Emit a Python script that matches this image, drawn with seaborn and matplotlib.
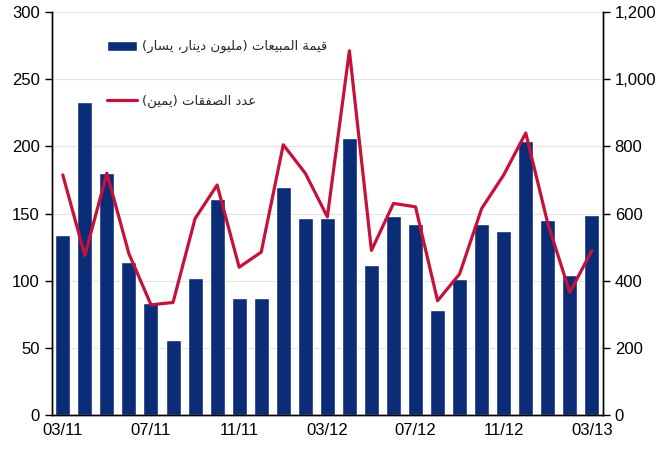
import numpy as np
import pandas as pd
import matplotlib
matplotlib.use("Agg")
import matplotlib.pyplot as plt
from matplotlib.ticker import FuncFormatter, FixedLocator
import seaborn as sns

months = ["03/11", "04/11", "05/11", "06/11", "07/11", "08/11", "09/11", "10/11",
          "11/11", "12/11", "01/12", "02/12", "03/12", "04/12", "05/12", "06/12",
          "07/12", "08/12", "09/12", "10/12", "11/12", "12/12", "01/13", "02/13", "03/13"]
sales_value = [134, 233, 180, 114, 83, 56, 102, 161, 87, 87, 170, 147, 147, 206, 112,
               148, 142, 78, 101, 142, 137, 204, 145, 104, 149]
deals_count = [715, 475, 720, 480, 328, 335, 585, 685, 440, 485, 805, 720, 590, 1085, 490,
               630, 620, 340, 420, 615, 715, 840, 570, 365, 490]
label_sales = "قيمة المبيعات (مليون دينار، يسار)"
label_deals = "عدد الصفقات (يمين)"

# tiny arabic shaper: contextual forms + visual (reversed) order
FORMS = {
    "ا": (0xFE8D, 0xFE8E, None, None), "ب": (0xFE8F, 0xFE90, 0xFE91, 0xFE92),
    "ة": (0xFE93, 0xFE94, None, None), "ت": (0xFE95, 0xFE96, 0xFE97, 0xFE98),
    "د": (0xFEA9, 0xFEAA, None, None), "ر": (0xFEAD, 0xFEAE, None, None),
    "س": (0xFEB1, 0xFEB2, 0xFEB3, 0xFEB4), "ص": (0xFEB9, 0xFEBA, 0xFEBB, 0xFEBC),
    "ع": (0xFEC9, 0xFECA, 0xFECB, 0xFECC), "ف": (0xFED1, 0xFED2, 0xFED3, 0xFED4),
    "ق": (0xFED5, 0xFED6, 0xFED7, 0xFED8), "ل": (0xFEDD, 0xFEDE, 0xFEDF, 0xFEE0),
    "م": (0xFEE1, 0xFEE2, 0xFEE3, 0xFEE4), "ن": (0xFEE5, 0xFEE6, 0xFEE7, 0xFEE8),
    "و": (0xFEED, 0xFEEE, None, None), "ي": (0xFEF1, 0xFEF2, 0xFEF3, 0xFEF4),
}

def shape(text):
    out = []
    for i, ch in enumerate(text):
        if ch not in FORMS:
            out.append(ch)
            continue
        f = FORMS[ch]
        prev = text[i - 1] if i > 0 else ""
        nxt = text[i + 1] if i + 1 < len(text) else ""
        join_prev = prev in FORMS and FORMS[prev][2] is not None
        join_next = nxt in FORMS and f[2] is not None
        if join_prev and join_next:
            code = f[3]
        elif join_prev:
            code = f[1]
        elif join_next:
            code = f[2]
        else:
            code = f[0]
        out.append(chr(code))
    vis = "".join(out)[::-1]
    return vis.translate(str.maketrans("()", ")("))

sns.set_style("white")
plt.rcParams["font.family"] = ["Liberation Sans", "DejaVu Sans"]

df = pd.DataFrame({"month": months, "sales": sales_value, "deals": deals_count,
                   "pos": np.arange(len(months))})

fig = plt.figure(figsize=(6.64, 4.5), dpi=100)
ax = fig.add_axes([0.078, 0.078, 0.830, 0.895])

sns.barplot(data=df, x="month", y="sales", color="#0B2C77", saturation=1,
            width=0.68, ax=ax, zorder=2, label=shape(label_sales))
ax.set_ylim(0, 300)
ax.set_xlim(-0.5, len(months) - 0.5)
ax.set_yticks(range(0, 301, 50))
ax.yaxis.grid(True, color="#E3E3E3", linewidth=0.8, zorder=0)
ax.set_axisbelow(True)

ax2 = ax.twinx()
sns.lineplot(data=df, x="pos", y="deals", color="#C4123A", linewidth=2.3, ax=ax2,
             label=shape(label_deals))
ax2.set_ylim(0, 1200)
ax2.set_yticks(range(0, 1201, 200))
ax2.yaxis.set_major_formatter(FuncFormatter(lambda v, p: f"{int(v):,}"))
ax2.set_xlim(-0.5, len(months) - 0.5)

# x axis: labels every 4th month, ticks at month boundaries
ax.set_xticks(range(0, len(months), 4))
ax.set_xticklabels(months[::4])
ax.xaxis.set_minor_locator(FixedLocator(np.arange(-0.5, len(months), 1)))
ax.tick_params(axis="x", which="major", length=0, labelsize=12, pad=6, colors="black")
ax.tick_params(axis="x", which="minor", length=4, width=1, direction="out", color="black")
ax.tick_params(axis="y", length=5, width=1, direction="out", labelsize=12, colors="black", left=True)
ax2.tick_params(axis="y", length=5, width=1, direction="out", labelsize=12, colors="black", right=True)
ax.set_xlabel("")
ax.set_ylabel("")
ax2.set_xlabel("")
ax2.set_ylabel("")

for a in (ax, ax2):
    a.spines["top"].set_visible(False)
    for s in ("left", "right", "bottom"):
        a.spines[s].set_color("black")
        a.spines[s].set_linewidth(1)

h1, l1 = ax.get_legend_handles_labels()
h2, l2 = ax2.get_legend_handles_labels()
if ax.get_legend():
    ax.get_legend().remove()
ax2.legend(h1 + h2, l1 + l2, loc="upper left", bbox_to_anchor=(0.078, 0.96),
           frameon=False, handlelength=2.3, handleheight=0.8,
           labelspacing=3.15, handletextpad=0.4,
           prop={"family": ["DejaVu Sans"], "size": 9.5})

fig.savefig("out.png", dpi=100)
